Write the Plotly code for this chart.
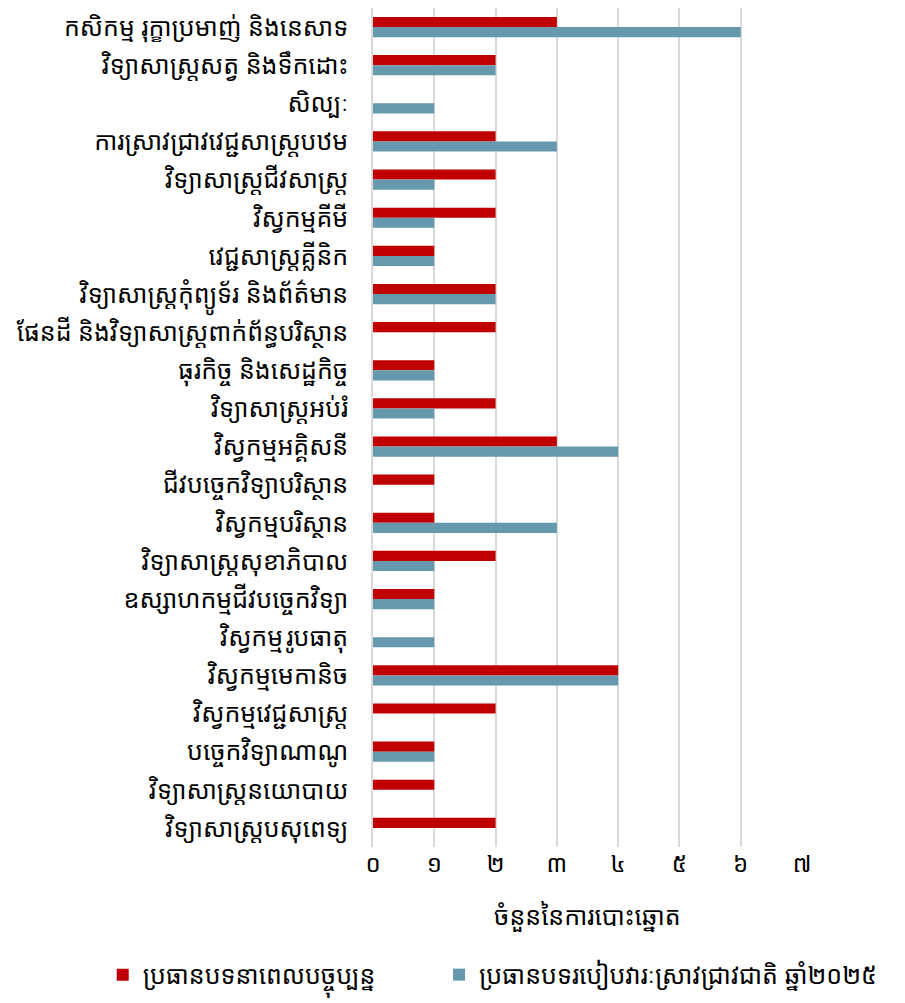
import plotly.graph_objects as go

categories = [
    "កសិកម្ម រុក្ខាប្រមាញ់ និងនេសាទ",
    "វិទ្យាសាស្ត្រសត្វ និងទឹកដោះ",
    "សិល្បៈ",
    "ការស្រាវជ្រាវវេជ្ជសាស្ត្របឋម",
    "វិទ្យាសាស្ត្រជីវសាស្ត្រ",
    "វិស្វកម្មគីមី",
    "វេជ្ជសាស្ត្រគ្លីនិក",
    "វិទ្យាសាស្ត្រកុំព្យូទ័រ និងព័ត៌មាន",
    "ផែនដី និងវិទ្យាសាស្ត្រពាក់ព័ន្ធបរិស្ថាន",
    "ធុរកិច្ច និងសេដ្ឋកិច្ច",
    "វិទ្យាសាស្ត្រអប់រំ",
    "វិស្វកម្មអគ្គិសនី",
    "ជីវបច្ចេកវិទ្យាបរិស្ថាន",
    "វិស្វកម្មបរិស្ថាន",
    "វិទ្យាសាស្ត្រសុខាភិបាល",
    "ឧស្សាហកម្មជីវបច្ចេកវិទ្យា",
    "វិស្វកម្មរូបធាតុ",
    "វិស្វកម្មមេកានិច",
    "វិស្វកម្មវេជ្ជសាស្ត្រ",
    "បច្ចេកវិទ្យាណាណូ",
    "វិទ្យាសាស្ត្រនយោបាយ",
    "វិទ្យាសាស្ត្របសុពេទ្យ",
]

current_topics = [3, 2, 0, 2, 2, 2, 1, 2, 2, 1, 2, 3, 1, 1, 2, 1, 0, 4, 2, 1, 1, 2]
agenda_2025 = [6, 2, 1, 3, 1, 1, 1, 2, 0, 1, 1, 4, 0, 3, 1, 1, 1, 4, 0, 1, 0, 0]

series_names = ["ប្រធានបទនាពេលបច្ចុប្បន្ន", "ប្រធានបទរបៀបវារៈស្រាវជ្រាវជាតិ ឆ្នាំ២០២៥"]
tick_vals = [0, 1, 2, 3, 4, 5, 6, 7]
tick_text = ["០", "១", "២", "៣", "៤", "៥", "៦", "៧"]
x_title = "ចំនួននៃការបោះឆ្នោត"

font_family = "Noto Sans Khmer, Khmer OS, Noto Sans, sans-serif"

fig = go.Figure()
fig.add_trace(go.Bar(
    y=categories, x=current_topics, orientation="h", name=series_names[0],
    marker=dict(color="#C00000", line=dict(width=0)), legend="legend",
))
fig.add_trace(go.Bar(
    y=categories, x=agenda_2025, orientation="h", name=series_names[1],
    marker=dict(color="#6699AE", line=dict(width=0)), legend="legend2",
))

legend_common = dict(orientation="h", yref="paper", y=-0.125, yanchor="top",
                     font=dict(size=25), itemsizing="constant",
                     itemwidth=30, tracegroupgap=0, bgcolor="rgba(0,0,0,0)")

fig.update_layout(
    width=905, height=1003,
    barmode="group", bargap=0.47, bargroupgap=0,
    plot_bgcolor="white", paper_bgcolor="white",
    font=dict(family=font_family, size=25, color="#000000"),
    margin=dict(l=365, r=111, t=0, b=164, autoexpand=False),
    showlegend=True,
    legend=dict(xref="paper", x=-0.63, xanchor="left", **legend_common),
    legend2=dict(xref="paper", x=0.154, xanchor="left", **legend_common),
    xaxis=dict(
        range=[0, 7], tickvals=tick_vals, ticktext=tick_text,
        showgrid=True, gridcolor="#D9D9D9", gridwidth=1.5,
        zeroline=False, showline=False,
        ticks="", tickfont=dict(size=24), ticklabelstandoff=0,
        automargin=False,
    ),
    yaxis=dict(
        autorange="reversed", showgrid=False,
        showline=True, linecolor="#D9D9D9", linewidth=1.5,
        ticks="", tickfont=dict(size=25), ticklabelstandoff=18,
        automargin=False,
    ),
    annotations=[dict(
        text=x_title, xref="paper", x=0.5, xanchor="center",
        yref="paper", y=(839 - 907) / 839, yanchor="middle",
        showarrow=False, font=dict(size=25),
    )],
)

fig.write_html("out.html")
